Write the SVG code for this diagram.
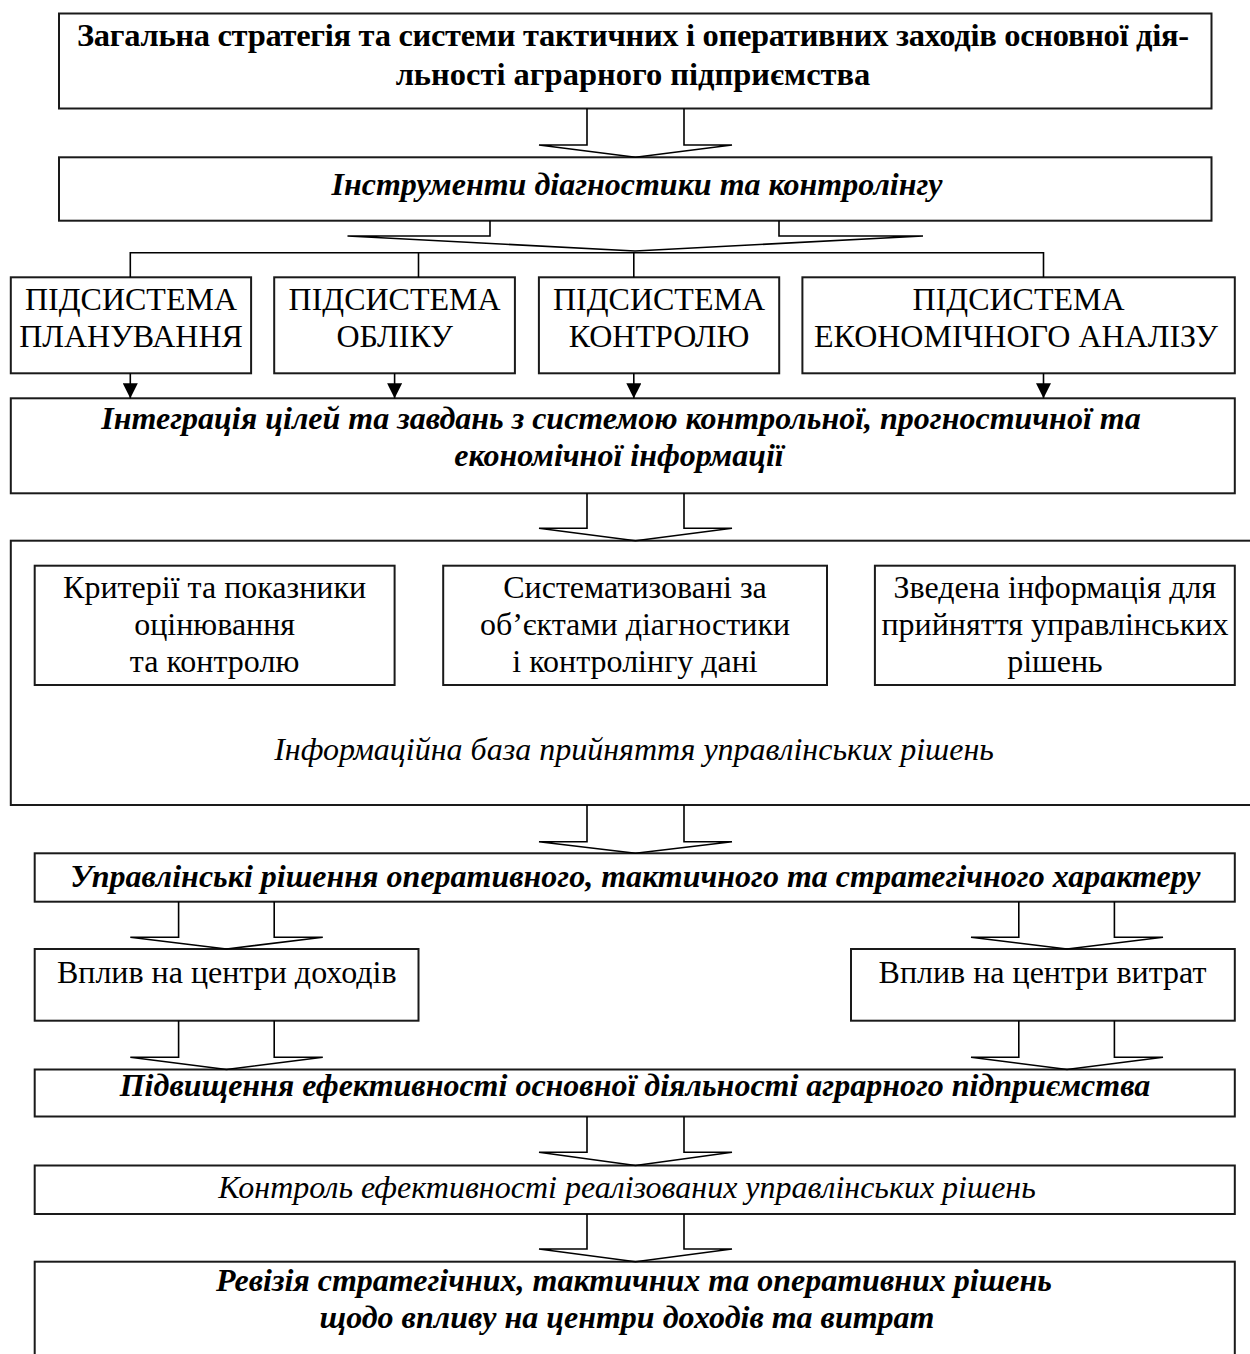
<svg xmlns="http://www.w3.org/2000/svg" width="1250" height="1354" viewBox="0 0 1250 1354">
  <style>
    .box { fill: #ffffff; stroke: #1a1a1a; stroke-width: 2; }
    .ln { fill: none; stroke: #000000; stroke-width: 1.6; stroke-linejoin: miter; }
    .t { font-family: "Liberation Serif", "Times New Roman", serif; font-size: 32px; fill: #000000; text-anchor: middle; }
    .b { font-weight: bold; }
    .i { font-style: italic; }
    .title { font-size: 32.5px; }
  </style>
  <defs>
    <marker id="tri" viewBox="0 0 15 15" refX="15" refY="7.5" markerWidth="15" markerHeight="15" markerUnits="userSpaceOnUse" orient="auto">
      <path d="M0,0 L15,7.5 L0,15 Z" fill="#000000"/>
    </marker>
  </defs>
  <rect width="1250" height="1354" fill="#ffffff"/>

  <g id="strategy">
    <rect class="box" x="59" y="13.5" width="1152.5" height="95"/>
    <text class="t b title" x="633" y="46.3" textLength="1112">Загальна стратегія та системи тактичних і оперативних заходів основної дія-</text>
    <text class="t b title" x="633" y="84.7">льності аграрного підприємства</text>
  </g>

  <g id="instruments">
    <rect class="box" x="59" y="157.3" width="1152.5" height="63.4"/>
    <text class="t b i" x="637" y="195">Інструменти діагностики та контролінгу</text>
  </g>

  <g id="sub-planning">
    <rect class="box" x="10.8" y="277.3" width="240.3" height="96"/>
    <text class="t" x="131" y="310">ПІДСИСТЕМА</text>
    <text class="t" x="131" y="346.7">ПЛАНУВАННЯ</text>
  </g>
  <g id="sub-accounting">
    <rect class="box" x="274.2" y="277.3" width="240.7" height="96"/>
    <text class="t" x="394.6" y="310">ПІДСИСТЕМА</text>
    <text class="t" x="394.6" y="346.7">ОБЛІКУ</text>
  </g>
  <g id="sub-control">
    <rect class="box" x="538.9" y="277.3" width="240.3" height="96"/>
    <text class="t" x="659" y="310">ПІДСИСТЕМА</text>
    <text class="t" x="659" y="346.7">КОНТРОЛЮ</text>
  </g>
  <g id="sub-analysis">
    <rect class="box" x="802.4" y="277.3" width="432.4" height="96"/>
    <text class="t" x="1018.6" y="310">ПІДСИСТЕМА</text>
    <text class="t" x="1016" y="346.7">ЕКОНОМІЧНОГО АНАЛІЗУ</text>
  </g>

  <g id="integration">
    <rect class="box" x="10.8" y="398.3" width="1224" height="95"/>
    <text class="t b i" x="621" y="429.3">Інтеграція цілей та завдань з системою контрольної, прогностичної та</text>
    <text class="t b i" x="619" y="466">економічної інформації</text>
  </g>

  <g id="info-base">
    <rect class="box" x="10.8" y="540.7" width="1245" height="264.3"/>
    <text class="t i" x="634" y="760">Інформаційна база прийняття управлінських рішень</text>
  </g>
  <g id="criteria">
    <rect class="box" x="34.7" y="565.7" width="359.9" height="119.3"/>
    <text class="t" x="214.6" y="598.3">Критерії та показники</text>
    <text class="t" x="214.6" y="635">оцінювання</text>
    <text class="t" x="214.6" y="671.7">та контролю</text>
  </g>
  <g id="systematized">
    <rect class="box" x="443.2" y="565.7" width="383.8" height="119.3"/>
    <text class="t" x="635" y="598.3">Систематизовані за</text>
    <text class="t" x="635" y="635">об’єктами діагностики</text>
    <text class="t" x="635" y="671.7">і контролінгу дані</text>
  </g>
  <g id="summary">
    <rect class="box" x="874.9" y="565.7" width="359.9" height="119.3"/>
    <text class="t" x="1054.9" y="598.3">Зведена інформація для</text>
    <text class="t" x="1054.9" y="635">прийняття управлінських</text>
    <text class="t" x="1054.9" y="671.7">рішень</text>
  </g>

  <g id="decisions">
    <rect class="box" x="34.7" y="853.3" width="1200.1" height="48.4"/>
    <text class="t b i" x="635.4" y="887.3">Управлінські рішення оперативного, тактичного та стратегічного характеру</text>
  </g>

  <g id="income-centres">
    <rect class="box" x="34.7" y="949" width="383.8" height="71.7"/>
    <text class="t" x="226.7" y="983.3">Вплив на центри доходів</text>
  </g>
  <g id="cost-centres">
    <rect class="box" x="851" y="949" width="383.8" height="71.7"/>
    <text class="t" x="1042.5" y="983.3">Вплив на центри витрат</text>
  </g>

  <g id="efficiency">
    <rect class="box" x="34.7" y="1069.5" width="1200.1" height="47"/>
    <text class="t b i" x="635" y="1095.5">Підвищення ефективності основної діяльності аграрного підприємства</text>
  </g>

  <g id="monitoring">
    <rect class="box" x="34.7" y="1165.5" width="1200.1" height="48.5"/>
    <text class="t i" x="627" y="1198.3">Контроль ефективності реалізованих управлінських рішень</text>
  </g>

  <g id="revision">
    <rect class="box" x="34.7" y="1261.7" width="1200.1" height="110"/>
    <text class="t b i" x="634" y="1291">Ревізія стратегічних, тактичних та оперативних рішень</text>
    <text class="t b i" x="627" y="1327.5">щодо впливу на центри доходів та витрат</text>
  </g>

  <g id="connectors">
    <!-- hollow block arrows along the main column -->
    <path class="ln" d="M587,108.5 V145 H539 L635.5,157.3 L732,145 H684 V108.5"/>
    <path class="ln" d="M587,493.3 V528.3 H539 L635.5,540.7 L732,528.3 H684 V493.3"/>
    <path class="ln" d="M587,805 V841.7 H539 L635.5,853.3 L732,841.7 H684 V805"/>
    <path class="ln" d="M587,1116.5 V1152.3 H539 L635.5,1165.5 L732,1152.3 H684 V1116.5"/>
    <path class="ln" d="M587,1214 V1249 H539 L635.5,1261.7 L732,1249 H684 V1214"/>

    <!-- wide arrow into the distribution bus -->
    <path class="ln" d="M490,220.7 V236 H347.5 L635,251 L923,236 H779 V220.7"/>
    <!-- bus feeding the four subsystems -->
    <path class="ln" d="M130.3,277.3 V252.7 H1043.5 V277.3"/>
    <path class="ln" d="M418.5,252.7 V277.3"/>
    <path class="ln" d="M633.8,252.7 V277.3"/>

    <!-- subsystem outputs -->
    <line class="ln" x1="130.3" y1="373.3" x2="130.3" y2="398.3" marker-end="url(#tri)"/>
    <line class="ln" x1="394.6" y1="373.3" x2="394.6" y2="398.3" marker-end="url(#tri)"/>
    <line class="ln" x1="633.8" y1="373.3" x2="633.8" y2="398.3" marker-end="url(#tri)"/>
    <line class="ln" x1="1043.5" y1="373.3" x2="1043.5" y2="398.3" marker-end="url(#tri)"/>

    <!-- decisions split to income and cost centres -->
    <path class="ln" d="M178.6,901.7 V937.3 H130.3 L226.5,949 L322.8,937.3 H274.2 V901.7"/>
    <path class="ln" d="M1018.8,901.7 V937.3 H971 L1067,949 L1163,937.3 H1114.4 V901.7"/>

    <!-- centres merge into efficiency -->
    <path class="ln" d="M178.6,1020.7 V1057.3 H130.3 L226.5,1069.5 L322.8,1057.3 H274.2 V1020.7"/>
    <path class="ln" d="M1018.8,1020.7 V1057.3 H971 L1067,1069.5 L1163,1057.3 H1114.4 V1020.7"/>
  </g>
</svg>
